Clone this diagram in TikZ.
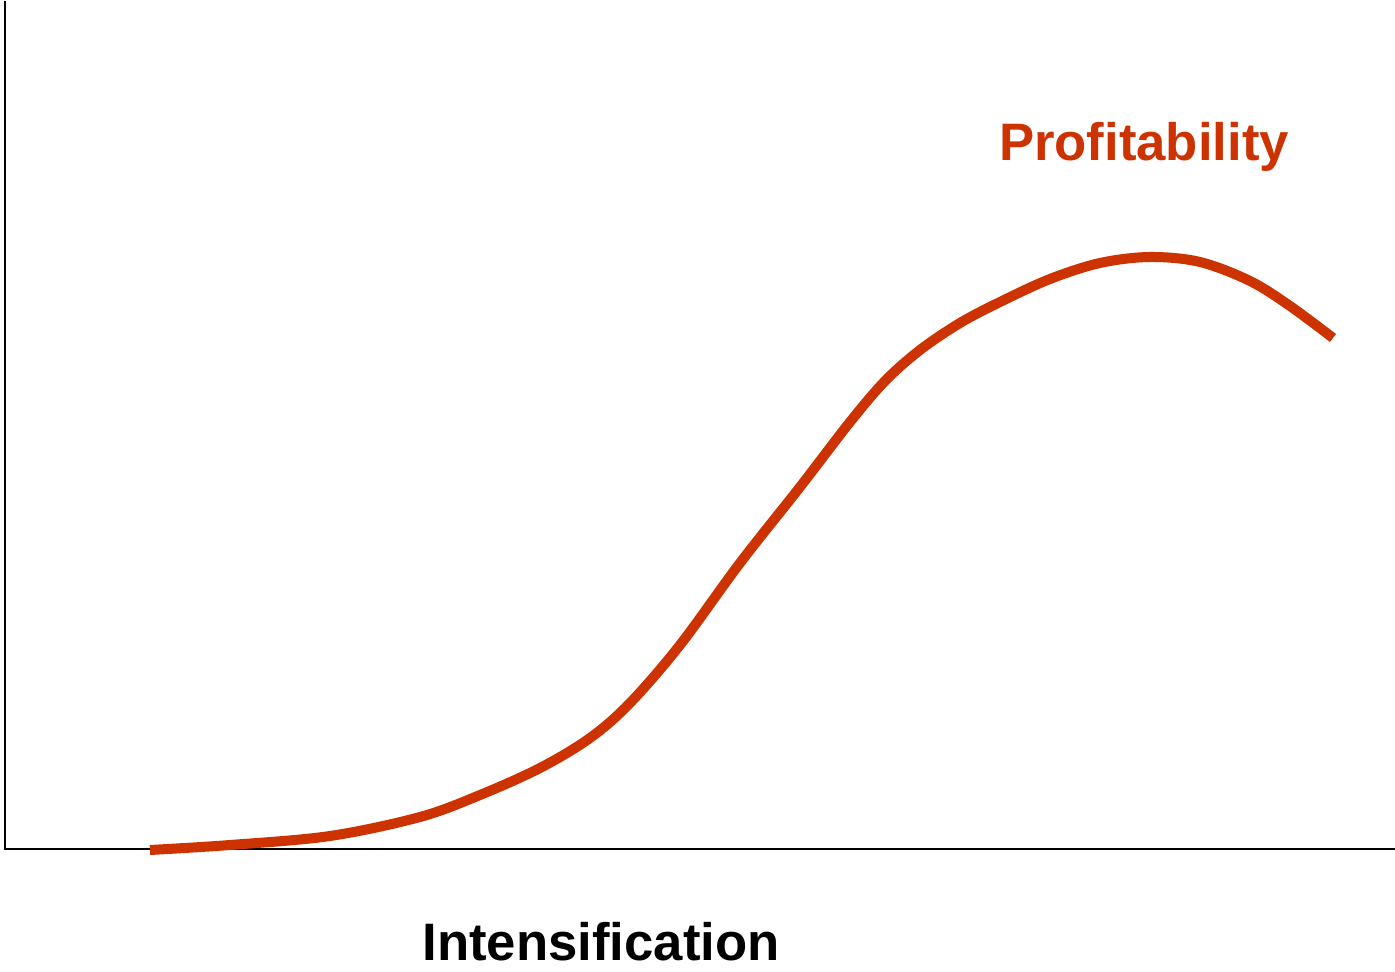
\documentclass[tikz,border=0pt]{standalone}
\usepackage{fontspec}
\setmainfont{Liberation Sans}
\definecolor{profitred}{HTML}{CC3300}

\begin{document}
\begin{tikzpicture}[x=0.02cm, y=-0.02cm]
    \useasboundingbox (0,0) rectangle (1395,972);

    % Axes
    \coordinate (top) at (5,1);
    \coordinate (O) at (5,849);
    \coordinate (right) at (1395,849);
    \draw[line width=1.2pt] (top) -- (O) -- (right);

    % Profitability curve
    \draw[line width=5.7pt, profitred] plot[smooth, tension=0.55] coordinates {
        (150,850) (230,845) (330,836) (420,817) (480,795) (540,768)
        (590,738) (630,703) (680,645) (740,563) (800,487) (850,422)
        (885,381) (920,350) (960,323) (1000,302) (1050,279) (1100,263)
        (1150,257) (1200,262) (1250,281) (1290,306) (1333,338)};

    % labels
    \node[anchor=base, inner sep=0pt, text=profitred, font=\fontsize{30}{36}\selectfont\bfseries] (profit) at (1144,161) {Profitability};
    \node[anchor=base, inner sep=0pt, font=\fontsize{30}{36}\selectfont\bfseries] (intens) at (601,960) {Intensification};

\end{tikzpicture}
\end{document}
